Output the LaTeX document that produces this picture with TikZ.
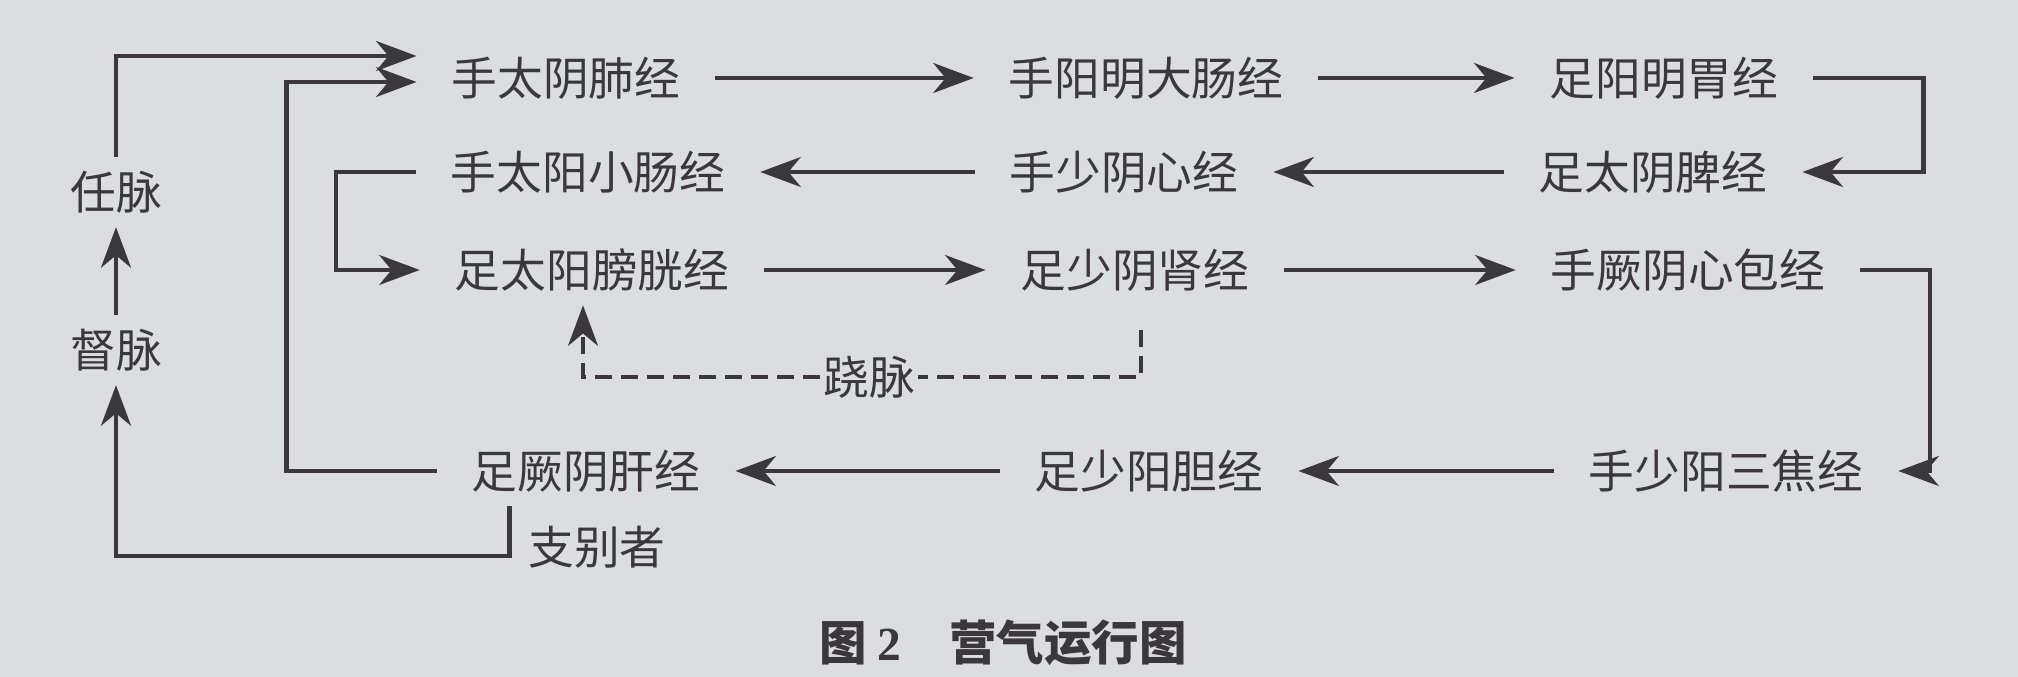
\documentclass[tikz,border=0pt]{standalone}
\usepackage{fontspec}
\setmainfont{Noto Sans CJK SC}
\newfontfamily\numfont{Liberation Serif}
\usetikzlibrary{arrows.meta}
\definecolor{paper}{RGB}{220,221,224}
\definecolor{ink}{RGB}{58,56,60}

\begin{document}
\begin{tikzpicture}[x=0.01cm,y=-0.01cm,
  jing/.style={font=\fontsize{13}{15}\selectfont,text=ink,inner sep=0pt,outer xsep=10pt,outer ysep=4pt},
  flow/.style={draw=ink,line width=1.2pt,-{Stealth[length=11.5pt,width=8.5pt,inset=3.5pt]}},
  qiaoflow/.style={flow,dash pattern=on 0.17cm off 0.09cm}]

\fill[paper] (0,0) rectangle (2018,677);
\useasboundingbox (0,0) rectangle (2018,677);

% the twelve channels
\node[jing] (fei) at (566,78) {手太阴肺经};
\node[jing] (dachang) at (1146,78) {手阳明大肠经};
\node[jing] (wei) at (1664,78) {足阳明胃经};
\node[jing] (xiaochang) at (588,172) {手太阳小肠经};
\node[jing] (xin) at (1124,172) {手少阴心经};
\node[jing] (pi) at (1653,172) {足太阴脾经};
\node[jing] (pangguang) at (592,270) {足太阳膀胱经};
\node[jing] (shen) at (1135,270) {足少阴肾经};
\node[jing] (xinbao) at (1688,270) {手厥阴心包经};
\node[jing] (gan) at (586,471) {足厥阴肝经};
\node[jing] (dan) at (1149,471) {足少阳胆经};
\node[jing] (sanjiao) at (1726,471) {手少阳三焦经};

\node[jing] (ren) at (116,192) {任脉};
\node[jing] (du) at (116,350) {督脉};
\node[jing] (zhibie) at (597,547) {支别者};
\node[jing,outer xsep=1pt] (qiao) at (869,377) {跷脉};

\node[font=\bfseries\fontsize{13.5}{16}\selectfont,text=ink] (title) at (1003,643) {图 {\numfont 2}\quad 营气运行图};

\foreach \a/\b in {fei/dachang,dachang/wei,pi/xin,xin/xiaochang,pangguang/shen,shen/xinbao,sanjiao/dan,dan/gan,du/ren}
  \draw[flow] (\a) -- (\b);

\draw[flow] (wei.east) -- ++(1.1cm,0) |- (pi.east);
\draw[flow] (xinbao.east) -- ++(0.7cm,0) |- (sanjiao.east);
\draw[flow] (xiaochang.west) -- ++(-0.8cm,0) |- (pangguang.west);
\draw[flow] (ren.north) |- ([yshift=0.22cm]fei.west);
\draw[flow] (gan.west) -- ++(-1.5cm,0) |- ([yshift=-0.04cm]fei.west);
\draw[flow] ([xshift=0.73cm]gan.south west) -- ++(0,-0.5cm) -| (du.south);

% qiao mai
\draw[qiaoflow,-] (shen.south) ++(0.06cm,-0.25cm) |- (qiao.east);
\draw[qiaoflow] (qiao.west) -| ([xshift=-0.09cm]pangguang.south);

\end{tikzpicture}
\end{document}
